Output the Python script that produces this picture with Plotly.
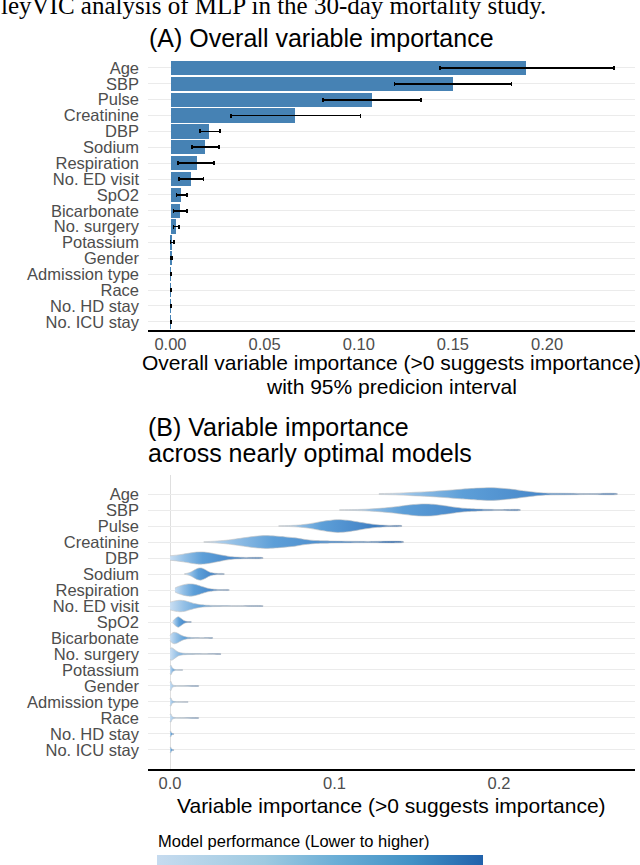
import plotly.graph_objects as go

# variables, top to bottom
variables = [
    "Age", "SBP", "Pulse", "Creatinine", "DBP", "Sodium", "Respiration",
    "No. ED visit", "SpO2", "Bicarbonate", "No. surgery", "Potassium",
    "Gender", "Admission type", "Race", "No. HD stay", "No. ICU stay",
]

# (A) overall importance with 95% prediction interval
overall_imp = [0.1887, 0.150, 0.107, 0.066, 0.0205, 0.0183, 0.0139, 0.0107,
               0.0056, 0.0050, 0.0030, 0.0008, 0.0004, 0.0002, 0.0002, 0.0001, 0.0001]
imp_lower = [0.143, 0.119, 0.081, 0.032, 0.0157, 0.0113, 0.0041, 0.0044,
             0.0032, 0.0016, 0.0015, 0.0, 0.0, 0.0, 0.0, 0.0, 0.0]
imp_upper = [0.2355, 0.181, 0.133, 0.101, 0.0263, 0.0259, 0.0231, 0.0176,
             0.0087, 0.0087, 0.0045, 0.0017, 0.0008, 0.0006, 0.0005, 0.0002, 0.0002]

# (B) violin profiles: importance values and half-width (in rows)
age_x = [0.127, 0.137, 0.147, 0.157, 0.167, 0.177, 0.187, 0.195, 0.203, 0.211, 0.219, 0.227, 0.24, 0.255, 0.272]
age_h = [0.03, 0.05, 0.10, 0.15, 0.22, 0.30, 0.37, 0.40, 0.35, 0.26, 0.15, 0.07, 0.05, 0.03, 0.02]
sbp_x = [0.103, 0.112, 0.121, 0.129, 0.136, 0.142, 0.148, 0.154, 0.160, 0.167, 0.173, 0.179, 0.188, 0.200, 0.213]
sbp_h = [0.02, 0.03, 0.06, 0.12, 0.19, 0.27, 0.34, 0.38, 0.36, 0.27, 0.18, 0.11, 0.06, 0.03, 0.02]
pulse_x = [0.066, 0.072, 0.078, 0.084, 0.090, 0.096, 0.102, 0.108, 0.114, 0.120, 0.126, 0.133, 0.141]
pulse_h = [0.02, 0.03, 0.06, 0.13, 0.24, 0.34, 0.40, 0.36, 0.26, 0.16, 0.08, 0.04, 0.02]
creat_x = [0.0205, 0.027, 0.034, 0.040, 0.046, 0.052, 0.058, 0.064, 0.070, 0.076, 0.082, 0.089, 0.100, 0.120, 0.142]
creat_h = [0.02, 0.05, 0.11, 0.19, 0.28, 0.36, 0.40, 0.37, 0.32, 0.26, 0.16, 0.09, 0.06, 0.04, 0.02]
dbp_x = [0.0, 0.004, 0.008, 0.012, 0.016, 0.020, 0.024, 0.028, 0.032, 0.036, 0.040, 0.046, 0.0566]
dbp_h = [0.14, 0.18, 0.24, 0.31, 0.37, 0.38, 0.33, 0.25, 0.17, 0.10, 0.06, 0.04, 0.02]
sodium_x = [0.0087, 0.011, 0.013, 0.015, 0.017, 0.019, 0.021, 0.023, 0.025, 0.028, 0.033]
sodium_h = [0.02, 0.06, 0.14, 0.26, 0.36, 0.38, 0.30, 0.18, 0.09, 0.04, 0.02]
resp_x = [0.003, 0.005, 0.008, 0.011, 0.014, 0.017, 0.020, 0.023, 0.026, 0.030, 0.036]
resp_h = [0.12, 0.22, 0.32, 0.38, 0.37, 0.30, 0.20, 0.11, 0.06, 0.03, 0.02]
ed_x = [0.0, 0.003, 0.006, 0.009, 0.012, 0.015, 0.018, 0.022, 0.030, 0.040, 0.0566]
ed_h = [0.24, 0.32, 0.36, 0.33, 0.24, 0.15, 0.09, 0.05, 0.03, 0.02, 0.01]
spo2_x = [0.0016, 0.0032, 0.005, 0.0068, 0.0085, 0.010, 0.013]
spo2_h = [0.05, 0.22, 0.33, 0.22, 0.09, 0.04, 0.01]
bicarb_x = [0.0, 0.0012, 0.0025, 0.004, 0.006, 0.008, 0.0101, 0.014, 0.020, 0.026]
bicarb_h = [0.15, 0.30, 0.36, 0.33, 0.22, 0.12, 0.06, 0.03, 0.02, 0.01]
surgery_x = [0.0, 0.001, 0.0025, 0.005, 0.008, 0.014, 0.022, 0.031]
surgery_h = [0.33, 0.39, 0.30, 0.12, 0.05, 0.03, 0.02, 0.01]
potassium_x = [0.0, 0.0006, 0.0015, 0.003, 0.0077]
potassium_h = [0.22, 0.30, 0.12, 0.03, 0.01]
gender_x = [0.0, 0.0005, 0.0015, 0.004, 0.0176]
gender_h = [0.22, 0.30, 0.08, 0.02, 0.01]
admission_x = [0.0, 0.0005, 0.0015, 0.004, 0.011]
admission_h = [0.20, 0.27, 0.07, 0.02, 0.01]
race_x = [0.0, 0.0005, 0.0015, 0.004, 0.0176]
race_h = [0.20, 0.27, 0.07, 0.02, 0.01]
hd_x = [0.0, 0.0004, 0.001, 0.0024]
hd_h = [0.14, 0.19, 0.06, 0.01]
icu_x = [0.0, 0.0004, 0.001, 0.0024]
icu_h = [0.14, 0.19, 0.06, 0.01]

violin_x = [age_x, sbp_x, pulse_x, creat_x, dbp_x, sodium_x, resp_x, ed_x, spo2_x,
            bicarb_x, surgery_x, potassium_x, gender_x, admission_x, race_x, hd_x, icu_x]
violin_h = [age_h, sbp_h, pulse_h, creat_h, dbp_h, sodium_h, resp_h, ed_h, spo2_h,
            bicarb_h, surgery_h, potassium_h, gender_h, admission_h, race_h, hd_h, icu_h]

perf_range = [0, 1]

FONT = "Liberation Sans, Arial, Helvetica, sans-serif"
GREY_TXT = "#4d4d4d"
perf_scale = [[0, "#c6dbef"], [0.33, "#9ecae1"], [0.55, "#6baed6"], [0.78, "#4292c6"], [1, "#2162ab"]]
violin_scale = [[0, "#c9def2"], [0.15, "#94c0e6"], [0.35, "#5d9fd8"], [0.65, "#4a8acb"], [1, "#2463ad"]]

n = len(variables)
rows = [n - 1 - i for i in range(n)]

fig = go.Figure()

# panel A bars
fig.add_trace(go.Bar(
    x=overall_imp, y=rows, orientation="h", width=0.9,
    marker=dict(color="#4682b4", line=dict(width=0)),
    error_x=dict(type="data", symmetric=False,
                 array=[u - v for u, v in zip(imp_upper, overall_imp)],
                 arrayminus=[v - l for v, l in zip(overall_imp, imp_lower)],
                 color="black", thickness=1.6, width=2),
    xaxis="x", yaxis="y", showlegend=False,
))

# panel B violins
for r, vx, vh in zip(rows, violin_x, violin_h):
    fig.add_trace(go.Scatter(
        x=vx + vx[::-1],
        y=[r + h for h in vh] + [r - h for h in vh[::-1]],
        mode="lines", fill="toself",
        line=dict(color="#c2c2c2", width=0.6, shape="spline", smoothing=0.8),
        fillgradient=dict(type="horizontal", colorscale=violin_scale),
        xaxis="x2", yaxis="y2", showlegend=False, hoverinfo="skip",
    ))

# colour bar for model performance
fig.add_trace(go.Scatter(
    x=[None, None], y=[None, None], mode="markers",
    marker=dict(color=perf_range, colorscale=perf_scale, cmin=0, cmax=1, showscale=True,
                colorbar=dict(orientation="h", x=320 / 640, xanchor="center",
                              len=326 / 640, lenmode="fraction",
                              y=1 - 855 / 865, yanchor="top", thickness=14,
                              outlinewidth=0, showticklabels=False, ticks="",
                              xpad=0, ypad=0)),
    xaxis="x2", yaxis="y2", showlegend=False,
))

xdom = [148 / 640, 635 / 640]
ylab = [variables[n - 1 - k] for k in range(n)]

common_y = dict(tickmode="array", tickvals=list(range(n)), ticktext=ylab,
                showgrid=True, gridcolor="#ebebeb", gridwidth=1.1, zeroline=False,
                showline=False, ticks="", ticklabelstandoff=8, automargin=False,
                tickfont=dict(family=FONT, size=16.5, color=GREY_TXT))
common_x = dict(showgrid=True, gridcolor="#ffffff", gridwidth=1.2, zeroline=False,
                showline=True, linecolor="black", linewidth=1.6, ticks="", automargin=False,
                ticklabelstandoff=-2, tickfont=dict(family=FONT, size=16.5, color=GREY_TXT))

fig.update_layout(
    width=640, height=865, margin=dict(l=0, r=0, t=0, b=0, autoexpand=False),
    plot_bgcolor="white", paper_bgcolor="white", bargap=0,
    xaxis=dict(domain=xdom, anchor="y", range=[-0.01195, 0.2467],
               tickvals=[0, 0.05, 0.10, 0.15, 0.20], tickformat=".2f", **common_x),
    yaxis=dict(domain=[1 - 330 / 865, 1 - 58 / 865], anchor="x", range=[-0.52, 16.63], **common_y),
    xaxis2=dict(domain=xdom, anchor="y2", range=[-0.01337, 0.2827],
                tickvals=[0, 0.1, 0.2], tickformat=".1f", **common_x),
    yaxis2=dict(domain=[1 - 769 / 865, 1 - 475 / 865], anchor="x2", range=[-1.19, 17.19], **common_y),
    shapes=[dict(type="line", xref="x2", yref="y2 domain", x0=0, x1=0, y0=0, y1=1,
                 line=dict(color="#bdbdbd", width=1), layer="below")],
)


def txt(text, x_px, y_px, size, xanchor="center", color="black", family=FONT):
    fig.add_annotation(text=text, x=x_px / 640, y=1 - y_px / 865, xref="paper", yref="paper",
                       xanchor=xanchor, yanchor="middle", showarrow=False,
                       font=dict(family=family, size=size, color=color))


txt("leyVIC analysis of MLP in the 30-day mortality study.", -1, 6, 25, "left",
    family="Liberation Serif, Times New Roman, serif")
txt("(A) Overall variable importance", 321, 38, 25)
txt("Overall variable importance (>0 suggests importance)", 391, 362, 21)
txt("with 95% predicion interval", 391, 387, 21)
txt("(B) Variable importance", 146, 427, 25, "left")
txt("across nearly optimal models", 146, 453, 25, "left")
txt("Variable importance (>0 suggests importance)", 391, 805, 21)
txt("Model performance (Lower to higher)", 156, 841, 16.5, "left")

# page body has a default margin; drop it so the figure sits at the window corner
fig.write_html("out.html", config={"displayModeBar": False},
               post_script="document.body.style.margin='0px';")
